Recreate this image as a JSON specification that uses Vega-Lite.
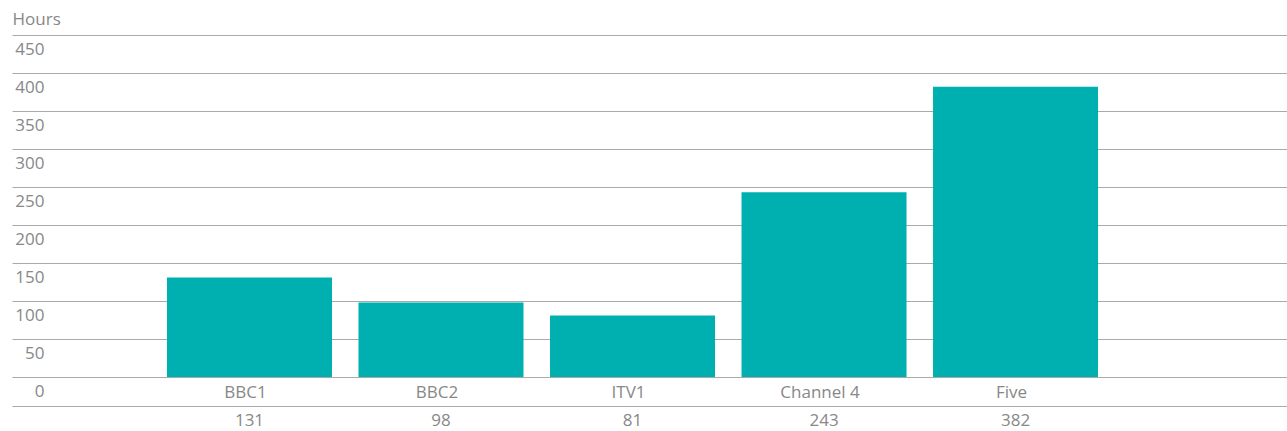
{
  "$schema": "https://vega.github.io/schema/vega-lite/v6.json",
  "padding": {"left": 12, "top": 10, "right": 0, "bottom": 0},
  "autosize": {"type": "pad"},
  "background": "white",
  "config": {
    "view": {"stroke": null},
    "font": "Open Sans",
    "concat": {"spacing": 6}
  },
  "data": {
    "values": [
      {"channel": "BBC1", "hours": 131},
      {"channel": "BBC2", "hours": 98},
      {"channel": "ITV1", "hours": 81},
      {"channel": "Channel 4", "hours": 243},
      {"channel": "Five", "hours": 382}
    ]
  },
  "resolve": {"scale": {"x": "independent"}},
  "vconcat": [
    {
      "width": 1275,
      "height": 342,
      "mark": {"type": "bar", "color": "#00B0B0"},
      "encoding": {
        "x": {
          "field": "channel", "type": "nominal", "sort": null,
          "scale": {"type": "band", "paddingInner": 0.1384, "paddingOuter": 0.898, "align": 0.4506},
          "axis": {"title": null, "labelAngle": 0, "domain": false, "ticks": false, "tickSize": 0,
                   "labelPadding": 7, "labelFontSize": 17, "labelColor": "#888888", "labelOffset": -4, "labelBaseline": "top"}
        },
        "y": {
          "field": "hours", "type": "quantitative",
          "scale": {"domain": [0, 450], "nice": false},
          "axis": {
            "values": [0, 50, 100, 150, 200, 250, 300, 350, 400, 450],
            "title": "Hours", "titleAngle": 0, "titleX": 0, "titleY": -16,
            "titleAlign": "left", "titleBaseline": "middle", "titleFontWeight": "normal",
            "titleFontSize": 17, "titleColor": "#888888",
            "labelAlign": "right", "labelBaseline": "middle", "labelOffset": 14, "labelPadding": -32,
            "ticks": false, "tickSize": 0, "domain": false,
            "grid": true, "gridColor": "#aaaaaa", "gridOpacity": 1,
            "labelFontSize": 17, "labelColor": "#888888"
          }
        }
      }
    },
    {
      "width": 1275,
      "height": 24,
      "mark": {"type": "text", "fontSize": 17, "color": "#888888", "baseline": "middle", "dy": 3},
      "encoding": {
        "x": {
          "field": "channel", "type": "nominal", "sort": null,
          "scale": {"type": "band", "paddingInner": 0.1384, "paddingOuter": 0.898, "align": 0.4506},
          "axis": {"orient": "top", "title": null, "labels": false, "ticks": false, "tickSize": 0,
                   "domain": true, "domainColor": "#aaaaaa", "grid": false}
        },
        "text": {"field": "hours", "type": "quantitative"}
      }
    }
  ]
}
